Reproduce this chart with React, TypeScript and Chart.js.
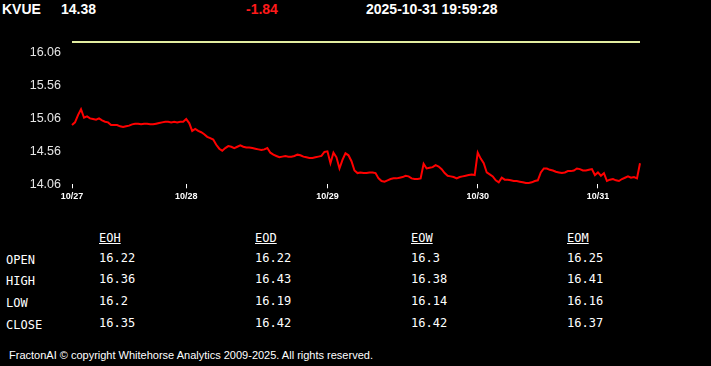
import React, { useEffect, useRef } from "react";
import { Chart, registerables } from "chart.js";

Chart.register(...registerables);

const symbol = "KVUE";
const lastPrice = "14.38";
const change = "-1.84";
const timestamp = "2025-10-31 19:59:28";
const prevClose = 16.22;

const dayLabels = ["10/27", "10/28", "10/29", "10/30", "10/31"];

const day1 = [
  14.96, 15.0, 15.11, 15.2, 15.07, 15.09, 15.06, 15.05, 15.04, 15.06,
  15.03, 15.01, 15.0, 14.96, 14.96, 14.96, 14.94, 14.93, 14.94, 14.95,
  14.97, 14.98, 14.98, 14.97, 14.98, 14.98, 14.97, 14.97, 14.98, 14.99,
  15.0, 15.01, 15.01, 15.0, 15.01, 15.0, 15.01, 15.01,
];
const day2 = [
  15.05, 14.99, 14.87, 14.9, 14.87, 14.85, 14.82, 14.78, 14.76, 14.74,
  14.66, 14.6, 14.57, 14.61, 14.64, 14.63, 14.61, 14.63, 14.65, 14.63,
  14.62, 14.62, 14.61, 14.6, 14.59, 14.58, 14.59, 14.61, 14.54, 14.51,
  14.49, 14.47, 14.48, 14.49, 14.48, 14.48, 14.49, 14.51, 14.5, 14.48,
  14.47, 14.46, 14.46, 14.47, 14.48, 14.49, 14.55,
];
const day3 = [
  14.56, 14.38, 14.54, 14.47, 14.3, 14.43, 14.53, 14.5, 14.41, 14.27,
  14.23, 14.24, 14.23, 14.23, 14.24, 14.24, 14.23, 14.15, 14.11, 14.1,
  14.12, 14.14, 14.15, 14.15, 14.16, 14.17, 14.19, 14.18, 14.15, 14.14,
  14.14, 14.15, 14.37, 14.3, 14.31, 14.32, 14.35, 14.33, 14.29, 14.23,
  14.19, 14.18, 14.17, 14.15, 14.17, 14.18, 14.19, 14.2, 14.21, 14.2,
];
const day4 = [
  14.54, 14.45, 14.38, 14.24, 14.21, 14.18, 14.12, 14.09, 14.16, 14.13,
  14.13, 14.12, 14.11, 14.11, 14.1, 14.09, 14.08, 14.08, 14.09, 14.11,
  14.12, 14.24, 14.3, 14.3, 14.28, 14.27, 14.25, 14.24, 14.23, 14.24,
  14.26, 14.26, 14.27, 14.3, 14.29, 14.27, 14.27, 14.28, 14.29, 14.2,
];
const day5 = [
  14.24, 14.19, 14.23, 14.11, 14.13, 14.14, 14.12, 14.11, 14.14, 14.16,
  14.18, 14.16, 14.17, 14.15, 14.38,
];

const yTicks = [14.06, 14.56, 15.06, 15.56, 16.06];
const yMin = 14.06;
const yMax = 16.22;

const tableCols = ["EOH", "EOD", "EOW", "EOM"];
const tableRows = ["OPEN", "HIGH", "LOW", "CLOSE"];
const eoh = [16.22, 16.36, 16.2, 16.35];
const eod = [16.22, 16.43, 16.19, 16.42];
const eow = [16.3, 16.38, 16.14, 16.42];
const eom = [16.25, 16.41, 16.16, 16.37];

const footer =
  "FractonAI \u00a9 copyright Whitehorse Analytics 2009-2025. All rights reserved.";

const days = [day1, day2, day3, day4, day5];

const SANS = "'Liberation Sans', Arial, sans-serif";
const MONO = "'DejaVu Sans Mono', monospace";

function Txt(props: {
  x: number;
  base: number;
  size: number;
  font: string;
  asc: number;
  desc: number;
  color?: string;
  bold?: boolean;
  underline?: boolean;
  children: React.ReactNode;
}) {
  const { x, base, size, font, asc, desc, color, bold, underline } = props;
  const top = base - ((size - (asc + desc) * size) / 2 + asc * size);
  return (
    <div
      style={{
        position: "absolute",
        left: x,
        top,
        fontFamily: font,
        fontSize: size,
        lineHeight: size + "px",
        color: color || "#fff",
        fontWeight: bold ? "bold" : "normal",
        textDecoration: underline ? "underline" : "none",
        whiteSpace: "pre",
      }}
    >
      {props.children}
    </div>
  );
}

export default function App() {
  const canvasRef = useRef<HTMLCanvasElement | null>(null);

  useEffect(() => {
    document.body.style.margin = "0";
    document.body.style.background = "#000";
    const labels: string[] = [];
    const prices: number[] = [];
    const dayStarts: number[] = [];
    days.forEach((d, k) => {
      dayStarts.push(labels.length);
      d.forEach((v) => {
        labels.push(dayLabels[k]);
        prices.push(v);
      });
    });
    const ref = labels.map(() => prevClose);

    const chart = new Chart(canvasRef.current as HTMLCanvasElement, {
      type: "line",
      data: {
        labels,
        datasets: [
          {
            data: ref,
            borderColor: "#e2eca0",
            borderWidth: 2,
            pointRadius: 0,
            tension: 0,
            clip: false,
          },
          {
            data: prices,
            borderColor: "#ff0000",
            borderWidth: 2,
            pointRadius: 0,
            tension: 0,
            clip: false,
          },
        ],
      },
      options: {
        animation: false,
        responsive: false,
        devicePixelRatio: 1,
        events: [],
        layout: { padding: { top: 12, right: 71, left: 0, bottom: 0 } },
        plugins: {
          legend: { display: false },
          tooltip: { enabled: false },
        },
        scales: {
          x: {
            type: "category",
            offset: false,
            border: { display: false },
            grid: {
              display: true,
              drawOnChartArea: false,
              drawTicks: true,
              tickLength: 4,
              color: "#ffffff",
              lineWidth: 1,
            },
            afterBuildTicks: (scale: any) => {
              scale.ticks = dayStarts.map((v) => ({ value: v }));
            },
            afterFit: (scale: any) => {
              scale.height = 20.7;
              scale.paddingLeft = 0;
              scale.paddingRight = 0;
            },
            ticks: {
              autoSkip: false,
              maxRotation: 0,
              padding: 3,
              color: "#ffffff",
              font: { family: SANS, size: 9, weight: "bold" },
              callback: function (this: any, value: any) {
                return labels[value];
              },
            },
          },
          y: {
            min: yMin,
            max: yMax,
            border: { display: false },
            grid: { display: false, drawTicks: false },
            afterBuildTicks: (scale: any) => {
              scale.ticks = yTicks.map((v) => ({ value: v }));
            },
            afterFit: (scale: any) => {
              scale.width = 72;
              scale.paddingTop = 0;
              scale.paddingBottom = 0;
            },
            ticks: {
              padding: 11,
              color: "#e6e6e6",
              font: { family: SANS, size: 12.5 },
              callback: (v: any) => Number(v).toFixed(2),
            },
          },
        },
      },
    } as any);
    return () => chart.destroy();
  }, []);

  const cols = [eoh, eod, eow, eom];
  const colX = [99, 255, 411, 567];
  const labelBase = [264.5, 285, 307, 329];
  const valueBase = [262.5, 283.5, 305.5, 327.5];

  return (
    <div
      style={{
        position: "fixed",
        left: 0,
        top: 0,
        width: 711,
        height: 366,
        background: "#000",
        overflow: "hidden",
      }}
    >
      <Txt x={2} base={13.5} size={14} font={SANS} asc={0.905} desc={0.212} bold>
        {symbol}
      </Txt>
      <Txt x={61} base={13.5} size={14} font={SANS} asc={0.905} desc={0.212} bold>
        {lastPrice}
      </Txt>
      <Txt x={246} base={13.5} size={14} font={SANS} asc={0.905} desc={0.212} bold color="#ff1a1a">
        {change}
      </Txt>
      <Txt x={366} base={13.5} size={14} font={SANS} asc={0.905} desc={0.212} bold>
        {timestamp}
      </Txt>

      <canvas
        ref={canvasRef}
        width={711}
        height={175}
        style={{ position: "absolute", left: 0, top: 30, width: 711, height: 175 }}
      />

      {tableCols.map((c, i) => (
        <Txt key={c} x={colX[i]} base={241.7} size={12} font={MONO} asc={0.928} desc={0.236} underline>
          {c}
        </Txt>
      ))}
      {tableRows.map((r, j) => (
        <Txt key={r} x={6} base={labelBase[j]} size={12} font={MONO} asc={0.928} desc={0.236}>
          {r}
        </Txt>
      ))}
      {cols.map((col, i) =>
        col.map((v, j) => (
          <Txt key={i + "-" + j} x={colX[i]} base={valueBase[j]} size={12} font={MONO} asc={0.928} desc={0.236}>
            {String(v)}
          </Txt>
        ))
      )}

      <Txt x={9} base={359.3} size={11} font={SANS} asc={0.905} desc={0.212}>
        {footer}
      </Txt>
    </div>
  );
}
